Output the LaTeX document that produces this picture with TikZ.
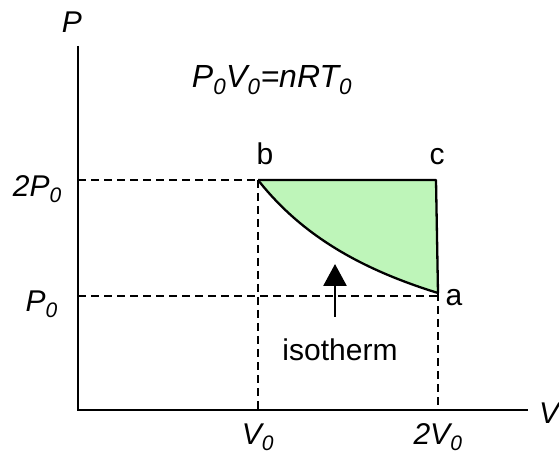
\documentclass[tikz,border=0pt]{standalone}
\usepackage{fontspec}
\setmainfont{Liberation Sans}
\usetikzlibrary{arrows.meta}
\definecolor{areagreen}{RGB}{190,245,185}
\tikzset{
  lbl/.style={font=\fontsize{30}{32}\selectfont\itshape, inner sep=0pt},
  ptlbl/.style={font=\fontsize{30}{32}\selectfont, inner sep=0pt},
  guide/.style={line width=2.2pt, dash pattern=on 8pt off 5pt},
  axis/.style={line width=2.8pt},
  cycleline/.style={line width=2.3pt}
}
\begin{document}
\begin{tikzpicture}[x=1pt, y=1pt]
\useasboundingbox (-78,-45) rectangle (481,410);
% corners of the cycle
\coordinate (O) at (0,0);
\coordinate (ytop) at (0,364);
\coordinate (xend) at (450,0);
\coordinate (b) at (180,230);
\coordinate (c) at (358,230);
\coordinate (a) at (360,117);
\coordinate (pb) at (0,230);
\coordinate (pa) at (0,114);
\coordinate (vb) at (180,0);
\coordinate (va) at (360,0);
\coordinate (arrtail) at (257,93);
\coordinate (arrhead) at (257,146);
% shaded area
\fill[areagreen] (b) -- (c) -- (a) -- plot[domain=360:180, samples=40] (\x, {230*(180/\x)+2*(\x-180)/180}) -- cycle;
% guide lines
\draw[guide] (pb) -- (b);
\draw[guide] (pa) -- (a |- pa);
\draw[guide] (b) -- (vb);
\draw[guide] (a) -- (va);
% axes
\draw[axis] (ytop) -- (O) -- (xend);
% cycle
\draw[cycleline, line join=round] (a) -- (c) -- (b);
\draw[cycleline] plot[domain=180:360, samples=40] (\x, {230*(180/\x)+2*(\x-180)/180});
\draw[line width=2.8pt, -{Triangle[width=23pt, length=22pt]}] (arrtail) -- (arrhead);
% labels
\node[lbl] (plbl) at (-6,388) {P};
\node[lbl, anchor=west] (vlbl) at (461,-3) {V};
\node[lbl, anchor=east] (p2) at (-16,221) {2P\textsubscript{0}};
\node[lbl, anchor=east] (p1) at (-20,106) {P\textsubscript{0}};
\node[lbl] (v1) at (180,-27) {V\textsubscript{0}};
\node[lbl] (v2) at (360,-27) {2V\textsubscript{0}};
\node[ptlbl] (blbl) at (187,256) {b};
\node[ptlbl] (clbl) at (359,253) {c};
\node[ptlbl] (albl) at (376,112) {a};
\node[lbl, font=\fontsize{32}{34}\selectfont\itshape] (eq) at (194,330) {P\textsubscript{0}V\textsubscript{0}=nRT\textsubscript{0}};
\node[ptlbl] (iso) at (262,60) {isotherm};
\end{tikzpicture}
\end{document}
